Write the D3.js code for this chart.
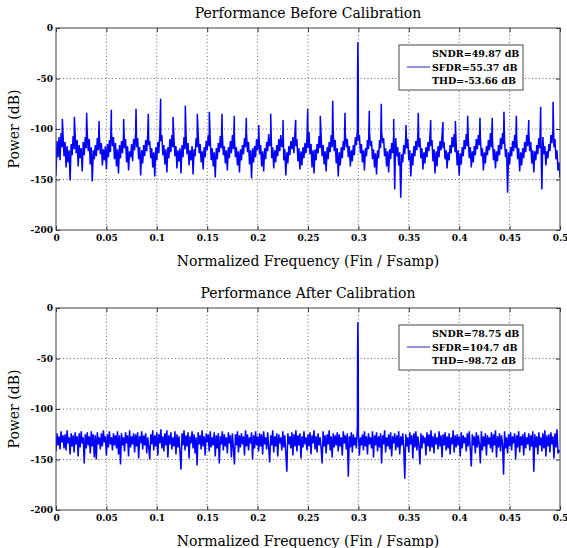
<!DOCTYPE html>
<html lang="en">
<head>
<meta charset="utf-8" />
<script src="https://cdnjs.cloudflare.com/ajax/libs/d3/7.8.5/d3.min.js"></script>
<style>
  body { margin: 0; background: #fff; }
  .tick text { font-family: "DejaVu Serif", serif; font-size: 9px; font-weight: bold; fill: #000; }
  .tick line { stroke: #333; }
  .title, .label { font-family: "DejaVu Serif", serif; font-size: 14px; fill: #000; }
  .legend text { font-family: "DejaVu Serif", serif; font-size: 9.5px; font-weight: bold; fill: #000; }
</style>
</head>
<body>
<div id="chart"></div>
<script>
// axis ticks
var xTicks = [0, 0.05, 0.1, 0.15, 0.2, 0.25, 0.3, 0.35, 0.4, 0.45, 0.5];
var xTickLabels = ["0", "0.05", "0.1", "0.15", "0.2", "0.25", "0.3", "0.35", "0.4", "0.45", "0.5"];
var yTicks = [0, -50, -100, -150, -200];
var yTickLabels = ["0", "-50", "-100", "-150", "-200"];

// FFT bin spacing of the noise arrays below (bin i sits at i * binStep)
var binStep = 0.001;

// before calibration: noise floor per bin (dB)
var beforeNoiseDb = [
  -146, -112, -128, -108, -131, -104, -118, -106, -127, -113, -138, -117, -133, -121, -151, -115, -126, -107, -120, -105,
  -124, -111, -137, -116, -129, -119, -142, -113, -126, -108, -119, -104, -122, -110, -135, -118, -152, -121, -130, -116,
  -127, -109, -121, -106, -125, -114, -136, -120, -131, -117, -140, -115, -128, -111, -123, -103, -117, -108, -130, -114,
  -137, -120, -144, -116, -129, -112, -124, -106, -119, -110, -133, -117, -141, -122, -128, -115, -132, -110, -121, -104,
  -118, -109, -130, -118, -146, -121, -134, -116, -127, -111, -122, -105, -116, -112, -129, -119, -138, -123, -147, -118,
  -131, -113, -124, -104, -112, -106, -126, -116, -135, -120, -143, -118, -129, -110, -123, -106, -118, -109, -127, -117,
  -139, -121, -132, -119, -144, -116, -128, -108, -120, -105, -125, -114, -136, -121, -131, -117, -145, -120, -127, -109,
  -118, -104, -124, -115, -133, -122, -140, -118, -128, -112, -121, -106, -117, -110, -131, -119, -137, -123, -148, -119,
  -130, -114, -123, -107, -119, -105, -126, -117, -134, -121, -141, -118, -129, -112, -124, -106, -120, -108, -128, -118,
  -136, -122, -143, -120, -131, -116, -125, -109, -118, -104, -123, -113, -135, -121, -149, -119, -133, -117, -128, -110,
  -121, -107, -125, -116, -137, -122, -142, -119, -130, -113, -122, -105, -117, -109, -129, -118, -139, -121, -133, -116,
  -127, -110, -122, -106, -118, -111, -131, -120, -146, -123, -134, -117, -126, -112, -120, -108, -124, -104, -117, -110,
  -132, -119, -140, -122, -136, -118, -129, -114, -124, -108, -119, -103, -125, -115, -138, -121, -144, -120, -131, -115,
  -124, -107, -119, -106, -127, -116, -135, -122, -142, -118, -130, -113, -123, -106, -118, -102, -122, -111, -134, -119,
  -147, -123, -136, -118, -129, -112, -121, -104, -118, -110, -128, -117, -137, -121, -132, -116, -126, -108, -116, -100,
  -112, -106, -124, -115, -133, -121, -141, -119, -127, -111, -120, -103, -117, -112, -130, -120, -138, -124, -145, -121,
  -129, -111, -119, -102, -114, -109, -127, -119, -137, -122, -143, -120, -130, -114, -124, -106, -160, -109, -127, -118,
  -136, -123, -168, -125, -133, -116, -125, -108, -119, -110, -131, -121, -147, -124, -136, -117, -127, -112, -121, -105,
  -118, -109, -129, -119, -140, -123, -134, -118, -128, -113, -122, -107, -117, -111, -132, -120, -144, -122, -137, -117,
  -128, -112, -121, -106, -119, -113, -130, -121, -139, -123, -131, -116, -124, -108, -118, -105, -123, -115, -136, -121,
  -146, -124, -135, -118, -127, -111, -120, -105, -117, -109, -129, -118, -138, -122, -133, -117, -126, -110, -120, -106,
  -116, -108, -127, -119, -141, -123, -134, -117, -126, -111, -121, -104, -118, -110, -131, -120, -139, -122, -132, -116,
  -126, -109, -120, -104, -115, -112, -128, -120, -163, -123, -135, -118, -127, -112, -122, -106, -119, -108, -130, -119,
  -142, -123, -136, -119, -129, -113, -123, -106, -117, -102, -122, -113, -134, -121, -143, -122, -131, -116, -125, -109,
  -119, -104, -160, -108, -125, -117, -136, -122, -129, -115, -122, -106, -114, -100, -118, -110, -130, -121, -141, -133,
  -148
];

// before calibration: spurious tones (frequency, dB)
var beforeSpurFreq = [0.0063, 0.0182, 0.0304, 0.0427, 0.0549, 0.0671, 0.0794, 0.0916, 0.1038, 0.1161,
  0.1283, 0.1402, 0.1521, 0.1647, 0.1769, 0.1888, 0.2011, 0.2130, 0.2252, 0.2378,
  0.2497, 0.2622, 0.2745, 0.2867, 0.3108, 0.3227, 0.3350, 0.3472, 0.3594, 0.3717,
  0.3839, 0.3962, 0.4084, 0.4206, 0.4328, 0.4444, 0.4567, 0.4690, 0.4808, 0.4931];
var beforeSpurDb = [-90, -88, -84, -92, -81, -90, -80, -85, -70, -88,
  -77, -85, -83, -85, -87, -89, -96, -85, -91, -91,
  -80, -87, -72, -84, -82, -75, -90, -96, -84, -91,
  -93, -92, -87, -89, -89, -83, -87, -91, -78, -73];

// input tone
var toneFreq = [0.2992, 0.2995, 0.2998];
var beforeToneDb = [-43, -14, -44];
var afterToneDb = [-43, -14, -45];

// after calibration: noise floor per bin (dB)
var afterNoiseDb = [
  -142, -124, -136, -127, -140, -122, -133, -126, -139, -125, -141, -121, -134, -128, -145, -124, -137, -126, -143, -123,
  -135, -127, -147, -124, -138, -122, -134, -128, -154, -125, -139, -123, -136, -127, -144, -122, -137, -125, -148, -126,
  -150, -123, -135, -128, -140, -124, -137, -121, -133, -127, -146, -125, -138, -122, -135, -128, -141, -124, -136, -126,
  -139, -122, -145, -126, -155, -124, -136, -128, -142, -123, -134, -126, -147, -121, -138, -127, -135, -124, -143, -125,
  -137, -123, -149, -127, -134, -122, -140, -126, -136, -124, -144, -128, -138, -150, -125, -135, -121, -141, -126, -137,
  -123, -146, -125, -134, -120, -139, -127, -142, -124, -136, -121, -148, -126, -135, -123, -140, -128, -137, -122, -145,
  -125, -138, -127, -143, -160, -124, -136, -121, -141, -126, -137, -123, -149, -127, -134, -122, -139, -125, -144, -128,
  -156, -123, -135, -126, -140, -121, -137, -127, -146, -124, -133, -125, -142, -122, -138, -128, -136, -123, -147, -126,
  -139, -124, -154, -127, -135, -122, -141, -125, -137, -128, -144, -123, -134, -126, -148, -124, -139, -155, -125, -136,
  -122, -143, -126, -138, -124, -135, -127, -146, -121, -137, -125, -141, -128, -134, -123, -150, -126, -139, -122, -136,
  -127, -142, -124, -137, -125, -145, -122, -135, -128, -140, -123, -138, -153, -126, -136, -121, -143, -127, -137, -124,
  -147, -125, -134, -128, -141, -122, -138, -126, -144, -162, -124, -135, -127, -139, -123, -146, -125, -137, -121, -142,
  -126, -136, -124, -149, -127, -138, -122, -135, -128, -141, -125, -137, -123, -145, -126, -134, -121, -140, -127, -143,
  -124, -136, -128, -139, -154, -122, -137, -126, -144, -125, -135, -121, -141, -127, -148, -124, -138, -126, -136, -123,
  -142, -125, -137, -128, -146, -122, -134, -126, -140, -124, -167, -127, -138, -123, -143, -125, -136, -128, -139, -118,
  -124, -146, -128, -136, -125, -141, -122, -137, -127, -145, -124, -135, -128, -139, -122, -148, -126, -136, -123, -142,
  -127, -138, -124, -154, -126, -135, -121, -143, -128, -137, -125, -140, -123, -147, -127, -134, -124, -141, -126, -138,
  -122, -145, -127, -136, -124, -139, -169, -125, -137, -128, -143, -123, -135, -126, -149, -124, -138, -122, -141, -127,
  -136, -155, -124, -139, -126, -134, -128, -146, -123, -137, -125, -142, -121, -138, -127, -144, -124, -135, -128, -140,
  -122, -137, -126, -148, -125, -136, -123, -141, -127, -139, -124, -145, -128, -135, -121, -143, -126, -138, -125, -136,
  -127, -147, -123, -139, -126, -134, -128, -142, -124, -137, -122, -140, -157, -125, -136, -127, -144, -123, -138, -126,
  -135, -154, -122, -141, -127, -137, -124, -146, -126, -135, -128, -139, -123, -143, -125, -136, -121, -148, -127, -138,
  -124, -142, -126, -135, -165, -122, -139, -128, -144, -125, -137, -123, -141, -127, -134, -124, -150, -126, -138, -122,
  -143, -127, -136, -125, -146, -123, -139, -128, -135, -124, -141, -126, -137, -122, -162, -125, -138, -127, -145, -123,
  -136, -128, -142, -124, -139, -121, -147, -126, -137, -125, -143, -123, -135, -127, -149, -124, -138, -120, -144, -141,
  -142
];

var beforeStats = ["SNDR=49.87 dB", "SFDR=55.37 dB", "THD=-53.66 dB"];
var afterStats = ["SNDR=78.75 dB", "SFDR=104.7 dB", "THD=-98.72 dB"];

var width = 567, height = 548;
var left = 56, plotW = 504, plotH = 202;

var svg = d3.select('#chart').append('svg')
  .attr('width', width)
  .attr('height', height);

svg.append('rect').attr('width', width).attr('height', height).attr('fill', '#fff');

function drawPanel(top, id, title, noiseDb, spurFreq, spurDb, toneDb, stats) {
  var x = d3.scaleLinear().domain([0, 0.5]).range([left, left + plotW]);
  var y = d3.scaleLinear().domain([-200, 0]).range([top + plotH, top]);
  var g = svg.append('g');

  g.append('clipPath').attr('id', 'clip' + id)
    .append('rect')
    .attr('x', left).attr('y', top)
    .attr('width', plotW).attr('height', plotH);

  // dotted grid
  g.selectAll('.vgrid').data(xTicks.slice(1, -1)).enter().append('line')
    .attr('x1', function (d) { return x(d); })
    .attr('x2', function (d) { return x(d); })
    .attr('y1', top).attr('y2', top + plotH)
    .attr('stroke', '#444').attr('stroke-width', 0.8)
    .attr('stroke-dasharray', '1,2.5');
  g.selectAll('.hgrid').data(yTicks.slice(1, -1)).enter().append('line')
    .attr('y1', function (d) { return y(d); })
    .attr('y2', function (d) { return y(d); })
    .attr('x1', left).attr('x2', left + plotW)
    .attr('stroke', '#444').attr('stroke-width', 0.8)
    .attr('stroke-dasharray', '1,2.5');

  // spectrum: noise bins + spurs + tone, sorted by frequency
  var pts = noiseDb.map(function (v, i) { return { f: i * binStep, db: v }; })
    .concat(spurFreq.map(function (f, i) { return { f: f, db: spurDb[i] }; }))
    .concat(toneFreq.map(function (f, i) { return { f: f, db: toneDb[i] }; }))
    .sort(function (a, b) { return a.f - b.f; });

  var line = d3.line()
    .x(function (d) { return x(d.f); })
    .y(function (d) { return y(d.db); });

  g.append('path')
    .datum(pts)
    .attr('clip-path', 'url(#clip' + id + ')')
    .attr('fill', 'none')
    .attr('stroke', '#0000ff')
    .attr('stroke-width', 1.5)
    .attr('stroke-linejoin', 'bevel')
    .attr('d', line);

  // legend box
  var lx = 399, ly = top + 17, lw = 124, lh = 45;
  var legend = g.append('g').attr('class', 'legend');
  legend.append('rect')
    .attr('x', lx).attr('y', ly).attr('width', lw).attr('height', lh)
    .attr('fill', '#fff').attr('stroke', '#444').attr('stroke-width', 1);
  var rowY = [8.5, 22, 35.5];
  legend.selectAll('text').data(stats).enter().append('text')
    .attr('x', lx + 33)
    .attr('y', function (d, i) { return ly + rowY[i] + 3.5; })
    .text(function (d) { return d; });
  legend.append('line')
    .attr('x1', lx + 8).attr('x2', lx + 31)
    .attr('y1', ly + rowY[1]).attr('y2', ly + rowY[1])
    .attr('stroke', '#2222aa').attr('stroke-width', 1);

  // axes (ticks point inward like matlab)
  var xb = g.append('g').attr('transform', 'translate(0,' + (top + plotH) + ')')
    .call(d3.axisBottom(x).tickValues(xTicks).tickSize(-4).tickPadding(5)
      .tickFormat(function (d, i) { return xTickLabels[i]; }));
  var xt = g.append('g').attr('transform', 'translate(0,' + top + ')')
    .call(d3.axisTop(x).tickValues(xTicks).tickSize(-4).tickFormat(''));
  var yl = g.append('g').attr('transform', 'translate(' + left + ',0)')
    .call(d3.axisLeft(y).tickValues(yTicks).tickSize(-4).tickPadding(3)
      .tickFormat(function (d, i) { return yTickLabels[i]; }));
  var yr = g.append('g').attr('transform', 'translate(' + (left + plotW) + ',0)')
    .call(d3.axisRight(y).tickValues(yTicks).tickSize(-4).tickFormat(''));
  [xb, xt, yl, yr].forEach(function (a) { a.select('.domain').remove(); });

  g.append('rect')
    .attr('x', left).attr('y', top).attr('width', plotW).attr('height', plotH)
    .attr('fill', 'none').attr('stroke', '#404040').attr('stroke-width', 1);

  // texts
  g.append('text').attr('class', 'title')
    .attr('x', left + plotW / 2).attr('y', top - 10)
    .attr('text-anchor', 'middle')
    .text(title);
  g.append('text').attr('class', 'label')
    .attr('x', left + plotW / 2).attr('y', top + plotH + 36)
    .attr('text-anchor', 'middle')
    .text('Normalized Frequency (Fin / Fsamp)');
  g.append('text').attr('class', 'label')
    .attr('transform', 'translate(19,' + (top + plotH / 2) + ') rotate(-90)')
    .attr('text-anchor', 'middle')
    .text('Power (dB)');
}

drawPanel(28, 'a', 'Performance Before Calibration', beforeNoiseDb, beforeSpurFreq, beforeSpurDb, beforeToneDb, beforeStats);
drawPanel(308, 'b', 'Performance After Calibration', afterNoiseDb, [], [], afterToneDb, afterStats);
</script>
</body>
</html>
